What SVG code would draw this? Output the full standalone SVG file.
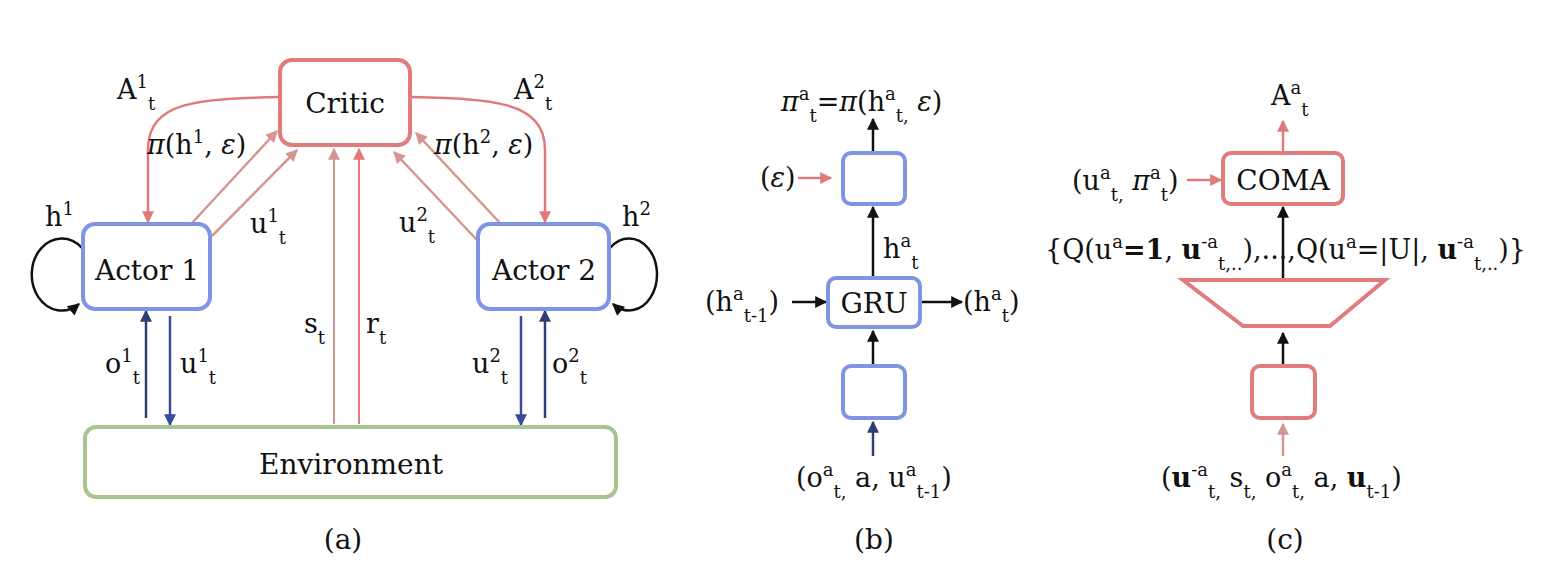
<svg xmlns="http://www.w3.org/2000/svg" width="1557" height="582" viewBox="0 0 1557 582">
<defs>
<style>
text{font-family:"DejaVu Serif","Liberation Serif",serif;fill:#111;}
.lb{font-size:27px}
.bx{font-size:28px}
.cap{font-size:28px}
.s{font-size:18px}
.i{font-style:italic}
.b{font-weight:bold}
.rb{fill:#fff;stroke:#e27c7c;stroke-width:4}
.bb{fill:#fff;stroke:#8094e6;stroke-width:4}
.gb{fill:#fff;stroke:#a6c592;stroke-width:4}
.c{fill:none;stroke-width:2.5}
.cr{stroke:#e07a7a}
.cp{stroke:#d4968f}
.ck{stroke:#111}
.cn{stroke:#2d3f6f}
.cb{stroke:#3a4a9c}
</style>
<marker id="mR" viewBox="0 0 10 10" refX="9" refY="5" markerWidth="13" markerHeight="12" markerUnits="userSpaceOnUse" orient="auto"><path d="M0,0 L10,5 L0,10 z" fill="#e07a7a"/></marker>
<marker id="mP" viewBox="0 0 10 10" refX="9" refY="5" markerWidth="13" markerHeight="12" markerUnits="userSpaceOnUse" orient="auto"><path d="M0,0 L10,5 L0,10 z" fill="#d4968f"/></marker>
<marker id="mK" viewBox="0 0 10 10" refX="9" refY="5" markerWidth="13" markerHeight="12" markerUnits="userSpaceOnUse" orient="auto"><path d="M0,0 L10,5 L0,10 z" fill="#111"/></marker>
<marker id="mN" viewBox="0 0 10 10" refX="9" refY="5" markerWidth="13" markerHeight="12" markerUnits="userSpaceOnUse" orient="auto"><path d="M0,0 L10,5 L0,10 z" fill="#2d3f6f"/></marker>
<marker id="mB" viewBox="0 0 10 10" refX="9" refY="5" markerWidth="13" markerHeight="12" markerUnits="userSpaceOnUse" orient="auto"><path d="M0,0 L10,5 L0,10 z" fill="#3a4a9c"/></marker>
</defs>
<rect width="1557" height="582" fill="#fff"/>

<g id="connectors">
  <!-- panel a -->
  <path class="c cr" d="M280,97 C200,99 148,100 148,150 L148,222" marker-end="url(#mR)"/>
  <path class="c cr" d="M410,97 C490,99 545,100 545,150 L545,222" marker-end="url(#mR)"/>
  <path class="c cp" d="M192,223 L277,131" marker-end="url(#mP)"/>
  <path class="c cp" d="M212,236 L297,150" marker-end="url(#mP)"/>
  <path class="c cp" d="M500,223 L416,133" marker-end="url(#mP)"/>
  <path class="c cp" d="M477,240 L394,152" marker-end="url(#mP)"/>
  <path class="c cp" d="M334,424 L334,149" marker-end="url(#mP)" style="stroke-width:2"/>
  <path class="c cr" d="M359,424 L359,149" marker-end="url(#mR)" style="stroke-width:2"/>
  <path class="c cn" d="M146,418 L146,311" marker-end="url(#mN)"/>
  <path class="c cb" d="M170,316 L170,425" marker-end="url(#mB)"/>
  <path class="c cb" d="M521,316 L521,425" marker-end="url(#mB)"/>
  <path class="c cn" d="M545,418 L545,311" marker-end="url(#mN)"/>
  <path class="c ck" d="M82,248 A30,36 0 1 0 79,304" marker-end="url(#mK)"/>
  <path class="c ck" d="M610,248 A28,36 0 1 1 613,304" marker-end="url(#mK)"/>
  <!-- panel b -->
  <path class="c ck" d="M873,151 L873,119" marker-end="url(#mK)"/>
  <path class="c cr" d="M798,178 L831,178" marker-end="url(#mR)"/>
  <path class="c ck" d="M873,277 L873,207" marker-end="url(#mK)"/>
  <path class="c ck" d="M792,302 L826,302" marker-end="url(#mK)"/>
  <path class="c ck" d="M922,302 L962,302" marker-end="url(#mK)"/>
  <path class="c ck" d="M873,364 L873,331" marker-end="url(#mK)"/>
  <path class="c cn" d="M873,456 L873,422" marker-end="url(#mN)"/>
  <!-- panel c -->
  <path class="c cr" d="M1283,151 L1283,121" marker-end="url(#mR)"/>
  <path class="c cr" d="M1187,180 L1221,180" marker-end="url(#mR)"/>
  <path class="c ck" d="M1283,278 L1283,207" marker-end="url(#mK)"/>
  <path class="c ck" d="M1283,364 L1283,333" marker-end="url(#mK)"/>
  <path class="c cp" d="M1283,456 L1283,424" marker-end="url(#mP)"/>
</g>

<g id="critic">
  <rect class="rb" x="280" y="60" width="130" height="85" rx="12"/>
  <text class="bx" x="345" y="113" text-anchor="middle">Critic</text>
</g>
<g id="actor1">
  <rect class="bb" x="83" y="224" width="127" height="85" rx="12"/>
  <text class="bx" x="147" y="280" text-anchor="middle">Actor 1</text>
</g>
<g id="actor2">
  <rect class="bb" x="478" y="224" width="131" height="85" rx="12"/>
  <text class="bx" x="544" y="280" text-anchor="middle">Actor 2</text>
</g>
<g id="environment">
  <rect class="gb" x="85" y="427" width="531" height="70" rx="11"/>
  <text class="bx" x="351" y="474" text-anchor="middle">Environment</text>
</g>

<g id="labels-a">
  <text class="lb" x="117" y="99">A<tspan class="s" dy="-11">1</tspan><tspan class="s" dy="22">t</tspan></text>
  <text class="lb" x="147" y="154"><tspan class="i">π</tspan>(h<tspan class="s" dy="-11">1</tspan><tspan dy="11">, </tspan><tspan class="i">ε</tspan>)</text>
  <text class="lb" x="250" y="233">u<tspan class="s" dy="-11">1</tspan><tspan class="s" dy="22">t</tspan></text>
  <text class="lb" x="45" y="226">h<tspan class="s" dy="-11">1</tspan></text>
  <text class="lb" x="514" y="99">A<tspan class="s" dy="-11">2</tspan><tspan class="s" dy="22">t</tspan></text>
  <text class="lb" x="434" y="154"><tspan class="i">π</tspan>(h<tspan class="s" dy="-11">2</tspan><tspan dy="11">, </tspan><tspan class="i">ε</tspan>)</text>
  <text class="lb" x="399" y="232">u<tspan class="s" dy="-11">2</tspan><tspan class="s" dy="22">t</tspan></text>
  <text class="lb" x="622" y="226">h<tspan class="s" dy="-11">2</tspan></text>
  <text class="lb" x="105" y="373">o<tspan class="s" dy="-11">1</tspan><tspan class="s" dy="22">t</tspan></text>
  <text class="lb" x="180" y="373">u<tspan class="s" dy="-11">1</tspan><tspan class="s" dy="22">t</tspan></text>
  <text class="lb" x="472" y="373">u<tspan class="s" dy="-11">2</tspan><tspan class="s" dy="22">t</tspan></text>
  <text class="lb" x="552" y="373">o<tspan class="s" dy="-11">2</tspan><tspan class="s" dy="22">t</tspan></text>
  <text class="lb" x="304" y="333">s<tspan class="s" dy="11">t</tspan></text>
  <text class="lb" x="366" y="333">r<tspan class="s" dy="11">t</tspan></text>
  <text class="cap" x="343" y="549" text-anchor="middle">(a)</text>
</g>

<g id="pi-box">
  <rect class="bb" x="843" y="153" width="62" height="51" rx="8"/>
</g>
<g id="gru">
  <rect class="bb" x="828" y="278" width="92" height="49" rx="8"/>
  <text class="bx" x="874" y="313" text-anchor="middle">GRU</text>
</g>
<g id="input-box-b">
  <rect class="bb" x="843" y="366" width="62" height="52" rx="8"/>
</g>
<g id="labels-b">
  <text class="lb" x="781" y="111"><tspan class="i">π</tspan><tspan class="s" dy="-11">a</tspan><tspan class="s" dy="22">t</tspan><tspan dy="-11">=</tspan><tspan class="i">π</tspan>(h<tspan class="s" dy="-11">a</tspan><tspan class="s" dy="22">t,</tspan><tspan dy="-11"> </tspan><tspan class="i">ε</tspan>)</text>
  <text class="lb" x="760" y="187">(<tspan class="i">ε</tspan>)</text>
  <text class="lb" x="883" y="258">h<tspan class="s" dy="-11">a</tspan><tspan class="s" dy="22">t</tspan></text>
  <text class="lb" x="705" y="311">(h<tspan class="s" dy="-11">a</tspan><tspan class="s" dy="22">t-1</tspan><tspan dy="-11">)</tspan></text>
  <text class="lb" x="963" y="311">(h<tspan class="s" dy="-11">a</tspan><tspan class="s" dy="22">t</tspan><tspan dy="-11">)</tspan></text>
  <text class="lb" x="796" y="487">(o<tspan class="s" dy="-11">a</tspan><tspan class="s" dy="22">t,</tspan><tspan dy="-11"> a, u</tspan><tspan class="s" dy="-11">a</tspan><tspan class="s" dy="22">t-1</tspan><tspan dy="-11">)</tspan></text>
  <text class="cap" x="874" y="549" text-anchor="middle">(b)</text>
</g>

<g id="coma">
  <rect class="rb" x="1223" y="153" width="120" height="51" rx="8"/>
  <text class="bx" x="1283" y="190" text-anchor="middle">COMA</text>
</g>
<g id="trapezoid">
  <polygon class="rb" points="1183,280 1385,280 1330,326 1243,326"/>
</g>
<g id="input-box-c">
  <rect class="rb" x="1252" y="366" width="63" height="52" rx="8"/>
</g>
<g id="labels-c">
  <text class="lb" x="1271" y="105">A<tspan class="s" dy="-11">a</tspan><tspan class="s" dy="22">t</tspan></text>
  <text class="lb" x="1072" y="190">(u<tspan class="s" dy="-11">a</tspan><tspan class="s" dy="22">t,</tspan><tspan dy="-11"> </tspan><tspan class="i">π</tspan><tspan class="s" dy="-11">a</tspan><tspan class="s" dy="22">t</tspan><tspan dy="-11">)</tspan></text>
  <text class="lb" x="1045" y="259">{Q(u<tspan class="s" dy="-11">a</tspan><tspan dy="11" class="b">=1</tspan>, <tspan class="b">u</tspan><tspan class="s" dy="-11">-a</tspan><tspan class="s" dy="22">t,..</tspan><tspan dy="-11">),...,Q(u</tspan><tspan class="s" dy="-11">a</tspan><tspan dy="11">=|U|, </tspan><tspan class="b">u</tspan><tspan class="s" dy="-11">-a</tspan><tspan class="s" dy="22">t,..</tspan><tspan dy="-11">)}</tspan></text>
  <text class="lb" x="1161" y="487">(<tspan class="b">u</tspan><tspan class="s" dy="-11">-a</tspan><tspan class="s" dy="22">t,</tspan><tspan dy="-11"> s</tspan><tspan class="s" dy="11">t,</tspan><tspan dy="-11"> o</tspan><tspan class="s" dy="-11">a</tspan><tspan class="s" dy="22">t,</tspan><tspan dy="-11"> a, </tspan><tspan class="b">u</tspan><tspan class="s" dy="11">t-1</tspan><tspan dy="-11">)</tspan></text>
  <text class="cap" x="1285" y="549" text-anchor="middle">(c)</text>
</g>
</svg>
